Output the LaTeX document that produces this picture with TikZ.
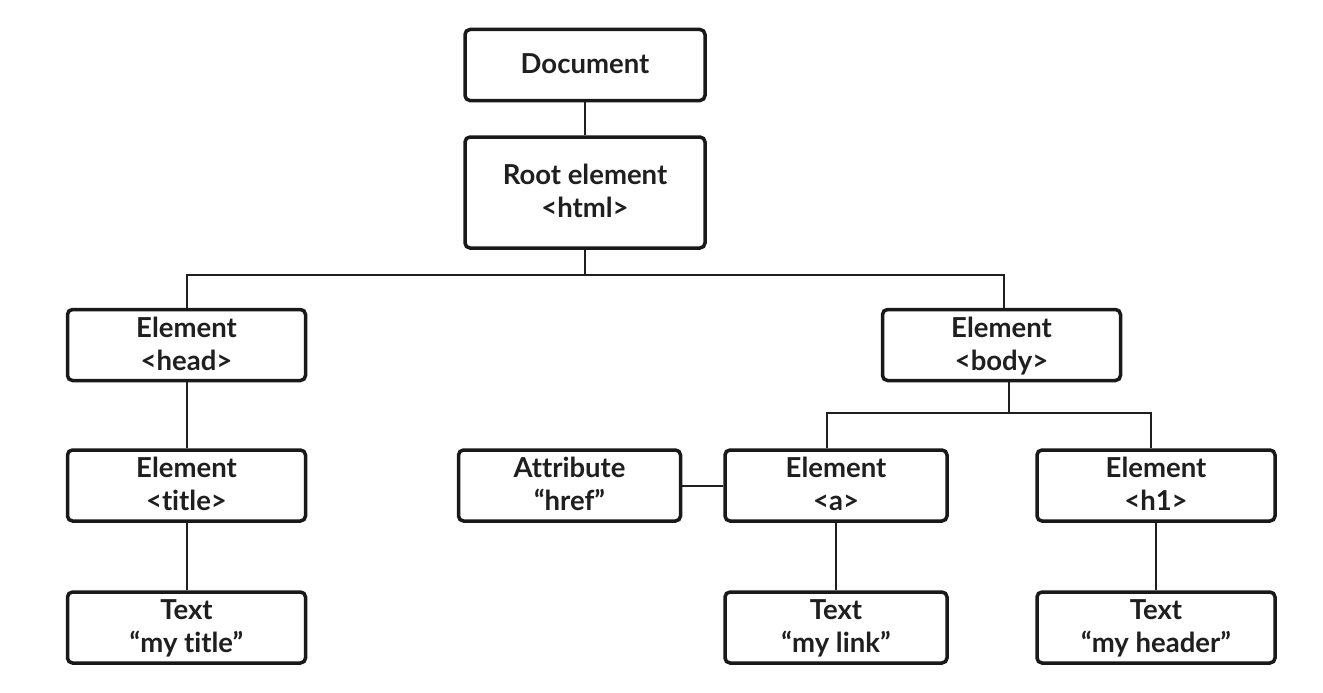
\documentclass[tikz,border=0pt]{standalone}
\usepackage{fontspec}
\setmainfont{Lato}[Ligatures=NoCommon]
\newcommand{\mystrut}{\rule[-7pt]{0pt}{31pt}}
\newcommand{\twol}[2]{\mystrut#1\\\mystrut#2}
\begin{document}
\begin{tikzpicture}[x=1pt,y=-1pt,
  box/.style={draw=black!90, line width=3.5pt, rounded corners=5pt, align=center,
    font=\fontsize{27.5}{33}\selectfont\bfseries, text=black!88, inner sep=0pt,
    minimum height=71pt},
  wbox/.style={box, minimum width=238pt},
  nbox/.style={box, minimum width=222pt},
  link/.style={draw=black!88, line width=2pt}]
\useasboundingbox (0,0) rectangle (1323,693);
\fill[white] (0,0) rectangle (1323,693);
\node[box, minimum width=240pt] (doc) at (585,65) {\mystrut Document};
\node[box, minimum width=240pt, minimum height=111pt] (root) at (585,192.5) {\twol{Root element}{<html>}};
\node[wbox] (head) at (186.5,345) {\twol{Element}{<head>}};
\node[wbox] (body) at (1001.5,345) {\twol{Element}{<body>}};
\node[wbox] (title) at (186.5,485.5) {\twol{Element}{<title>}};
\node[nbox] (attr) at (569.5,485.5) {\twol{Attribute}{“href”}};
\node[nbox] (a) at (836,485.5) {\twol{Element}{<a>}};
\node[wbox] (h1) at (1156,485.5) {\twol{Element}{<h1>}};
\node[wbox] (ttitle) at (186.5,627.5) {\twol{Text}{“my title”}};
\node[nbox] (tlink) at (836,627.5) {\twol{Text}{“my link”}};
\node[wbox] (theader) at (1156,627.5) {\twol{Text}{“my header”}};
\coordinate (j1) at (585,275);
\coordinate (j2) at (1009,413);
\draw[link] (doc) -- (root);
\draw[link] (root.south) -- (j1);
\draw[link] (j1) -| (head.north);
\draw[link] (j1) -| ([xshift=2.5pt]body.north);
\draw[link] ([xshift=7.5pt]body.south) -- (j2);
\draw[link] (j2) -| ([xshift=-9pt]a.north);
\draw[link] (j2) -| ([xshift=-5pt]h1.north);
\draw[link] (head) -- (title);
\draw[link] (title) -- (ttitle);
\draw[link] (attr) -- (a);
\draw[link] (a) -- (tlink);
\draw[link] (h1) -- (theader);
\end{tikzpicture}
\end{document}
